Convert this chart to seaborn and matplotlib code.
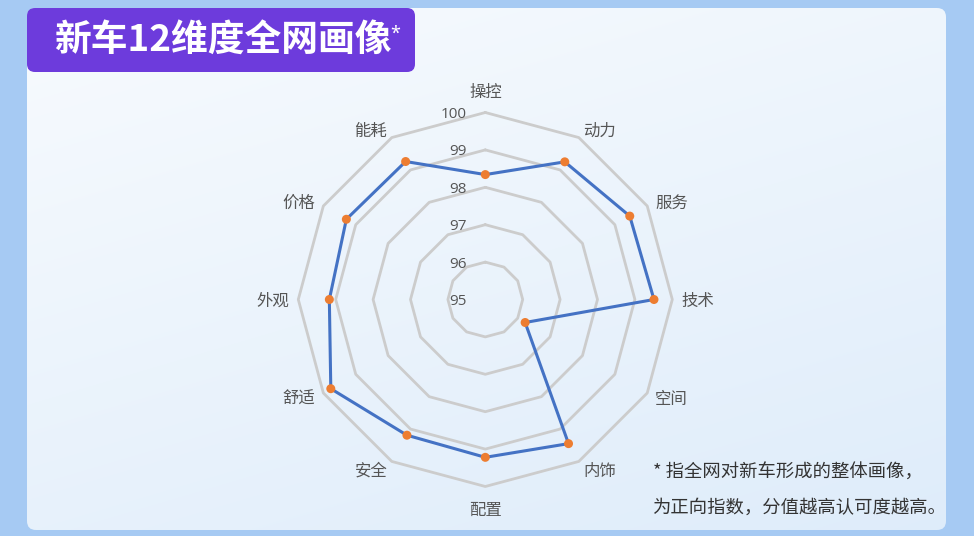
import numpy as np
import pandas as pd
import seaborn as sns
import matplotlib.pyplot as plt
import matplotlib.transforms as mtransforms
from matplotlib.patches import FancyBboxPatch

# Data
dimensions = ["操控", "动力", "服务", "技术", "空间", "内饰",
              "配置", "安全", "舒适", "外观", "价格", "能耗"]
scores = [98.34, 99.25, 99.46, 99.51, 96.23, 99.45,
          99.22, 99.19, 99.77, 99.17, 99.29, 99.26]
ring_levels = [95, 96, 97, 98, 99, 100]
title_text = "新车12维度全网画像"
note_lines = ["* 指全网对新车形成的整体画像，", "为正向指数，分值越高认可度越高。"]

# Styles
sns.set_theme(style="white")
plt.rcParams["font.family"] = ["Noto Sans CJK SC", "DejaVu Sans"]

W, H = 974, 536
fig = plt.figure(figsize=(W / 100, H / 100), dpi=100)
fig.patch.set_facecolor("#a6caf3")

# Background canvas in pixel units
bg = fig.add_axes([0, 0, 1, 1])
bg.set_xlim(0, W)
bg.set_ylim(H, 0)
bg.axis("off")

panel = FancyBboxPatch((27, 8), 919, 522, boxstyle="round,pad=0,rounding_size=9",
                       facecolor="none", edgecolor="none")
bg.add_patch(panel)
yy, xx = np.mgrid[0:H, 0:W]
t = 0.35 * xx / W + 0.65 * yy / H
c0 = np.array([248, 251, 254]) / 255
c1 = np.array([222, 236, 250]) / 255
grad = c0 + (c1 - c0) * t[..., None]
img = bg.imshow(grad, extent=[0, W, H, 0], aspect="auto", zorder=0)
img.set_clip_path(panel)

title_box = FancyBboxPatch((27, 8), 388, 64, boxstyle="round,pad=0,rounding_size=8",
                           facecolor="#6d3bdc", edgecolor="none", zorder=1)
bg.add_patch(title_box)
bg.text(54, 40, title_text, color="white", fontsize=26.5, fontweight="bold",
        va="center", ha="left", zorder=2)
bg.text(390, 34, "*", color="white", fontsize=13, fontweight="bold",
        va="center", ha="left", family=["Noto Sans", "DejaVu Sans"], zorder=2)

for i, line in enumerate(note_lines):
    bg.text(653, 473 + i * 35, line, color="#333333", fontsize=13.2,
            va="center", ha="left")

# Radar axes
cx, cy, R = 485.3, 299.5, 187
ax = fig.add_axes([(cx - R) / W, (H - cy - R) / H, 2 * R / W, 2 * R / H],
                  projection="polar")
ax.set_theta_zero_location("N")
ax.set_theta_direction(-1)
ax.set_facecolor("none")
ax.grid(False)
ax.spines["polar"].set_visible(False)

n = len(dimensions)
angles = np.linspace(0, 2 * np.pi, n, endpoint=False)
closed = np.append(angles, 2 * np.pi)

for lvl in ring_levels[1:]:
    ax.plot(closed, [lvl] * (n + 1), color="#cccccc", lw=2.0, clip_on=False, zorder=1)

df = pd.DataFrame({"angle": closed, "score": scores + scores[:1]})
sns.lineplot(data=df, x="angle", y="score", sort=False, estimator=None,
             ax=ax, color="#4472c4", lw=2.2, zorder=3)
sns.scatterplot(data=df.iloc[:-1], x="angle", y="score", ax=ax,
                color="#ed7d31", s=42, edgecolor="none", zorder=4)

ax.set_ylim(ring_levels[0], ring_levels[-1])
ax.set_xticks([])
ax.set_yticks([])
ax.set_xlabel("")
ax.set_ylabel("")

# Ring labels
trans = mtransforms.offset_copy(ax.transData, fig=fig, x=-19, y=-2, units="dots")
for lvl in ring_levels:
    ax.text(0, lvl, str(lvl), transform=trans, ha="right", va="center",
            fontsize=11, color="#555555", family=["Open Sans", "DejaVu Sans"])

# Dimension labels
name_trans = mtransforms.offset_copy(ax.transData, fig=fig, x=0, y=-2, units="dots")
for ang, name in zip(angles, dimensions):
    s = np.sin(ang)
    if abs(s) < 0.01:
        ax.text(ang, 100.59, name, transform=name_trans, ha="center", va="center",
                fontsize=11.8, color="#555555")
    else:
        ax.text(ang, 100.24, name, transform=name_trans, ha="left" if s > 0 else "right",
                va="center", fontsize=11.8, color="#555555")

plt.savefig("out.png", dpi=100)
